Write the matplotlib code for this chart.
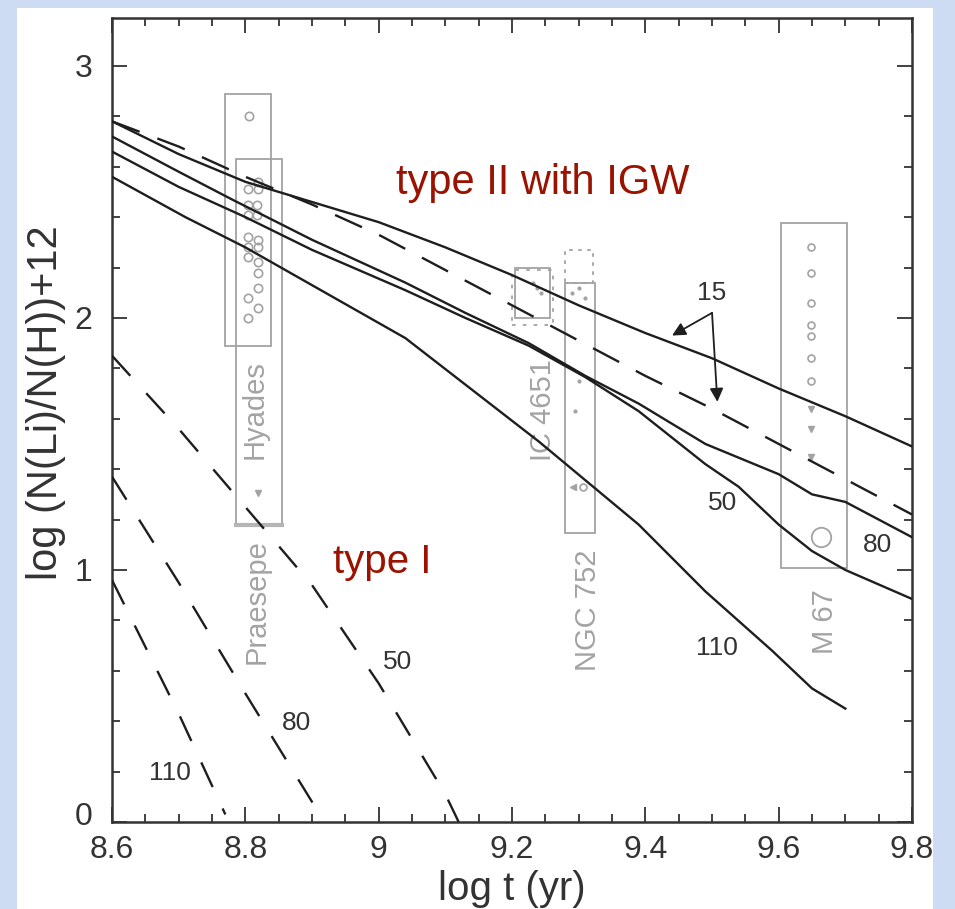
import matplotlib.pyplot as plt
from matplotlib.patches import Rectangle
from matplotlib.ticker import MultipleLocator
from matplotlib.transforms import ScaledTranslation

plt.rcParams['font.family'] = ['Liberation Sans', 'DejaVu Sans']

# type II with IGW, solid curves
igw15_x = [8.6, 8.7, 8.8, 8.9, 9.0, 9.1, 9.2, 9.3, 9.4, 9.5, 9.6, 9.7, 9.8]
igw15_y = [2.78, 2.65, 2.54, 2.46, 2.38, 2.28, 2.17, 2.05, 1.94, 1.84, 1.72, 1.61, 1.49]
igw80_x = [8.6, 8.7, 8.78, 8.9, 9.04, 9.13, 9.225, 9.31, 9.39, 9.49, 9.6, 9.65, 9.7, 9.75, 9.8]
igw80_y = [2.72, 2.58, 2.47, 2.31, 2.14, 2.02, 1.90, 1.77, 1.66, 1.50, 1.38, 1.30, 1.27, 1.20, 1.13]
igw50_x = [8.6, 8.7, 8.8, 8.9, 9.04, 9.13, 9.225, 9.31, 9.39, 9.49, 9.54, 9.6, 9.65, 9.7, 9.8]
igw50_y = [2.66, 2.52, 2.40, 2.27, 2.11, 2.00, 1.89, 1.765, 1.63, 1.42, 1.33, 1.18, 1.075, 1.00, 0.885]
igw110_x = [8.6, 8.71, 8.8, 8.9, 9.04, 9.24, 9.39, 9.49, 9.59, 9.65, 9.7]
igw110_y = [2.56, 2.40, 2.28, 2.13, 1.92, 1.51, 1.18, 0.915, 0.68, 0.53, 0.45]

# type II with IGW, dashed curve (15)
igw15d_x = [8.6, 8.7, 8.8, 8.9, 9.0, 9.1, 9.2, 9.3, 9.4, 9.5, 9.6, 9.7, 9.8]
igw15d_y = [2.78, 2.68, 2.56, 2.45, 2.33, 2.19, 2.05, 1.91, 1.77, 1.64, 1.50, 1.36, 1.22]

# type I, dashed curves
t50_x = [8.6, 8.7, 8.8, 8.9, 9.0, 9.1, 9.12]
t50_y = [1.85, 1.56, 1.25, 0.94, 0.55, 0.11, 0.0]
t80_x = [8.6, 8.7, 8.8, 8.9, 8.92]
t80_y = [1.37, 0.95, 0.51, 0.08, 0.0]
t110_x = [8.6, 8.7, 8.77]
t110_y = [0.96, 0.43, 0.03]

# cluster observations
hyades_x = [8.805, 8.819, 8.804, 8.819, 8.804, 8.817, 8.804, 8.817, 8.804, 8.819,
            8.804, 8.819, 8.804, 8.819, 8.819, 8.819, 8.804, 8.819, 8.804]
hyades_y = [2.80, 2.54, 2.51, 2.51, 2.45, 2.45, 2.41, 2.41, 2.32, 2.31,
            2.28, 2.28, 2.24, 2.22, 2.18, 2.12, 2.08, 2.04, 2.00]
m67_x = [9.649, 9.649, 9.649, 9.649, 9.649, 9.649, 9.649]
m67_y = [2.28, 2.18, 2.06, 1.97, 1.93, 1.84, 1.75]
m67_tri_x = [9.649, 9.649, 9.649]
m67_tri_y = [1.64, 1.56, 1.45]
ngc752_x = [9.29, 9.30, 9.31, 9.30, 9.295]
ngc752_y = [2.10, 2.12, 2.08, 1.75, 1.63]
ic4651_x = [9.232, 9.238, 9.244]
ic4651_y = [2.14, 2.12, 2.10]

xtick_vals = [8.6, 8.8, 9.0, 9.2, 9.4, 9.6, 9.8]
xtick_labels = ['8.6', '8.8', '9', '9.2', '9.4', '9.6', '9.8']
ytick_vals = [0, 1, 2, 3]

fig = plt.figure(figsize=(9.55, 9.09), dpi=100, facecolor='#cddcf2')
fig.patches.append(Rectangle((17 / 955, 0), 916 / 955, 1 - 8 / 909, transform=fig.transFigure,
                             facecolor='white', edgecolor='none', zorder=-5))
ax = fig.add_axes([0.1173, 0.0957, 0.8377, 0.8845])

line_c = '#1e1e1e'
grey = '#a3a3a3'

# boxes around the clusters
boxes = [(8.769, 1.89, 0.070, 1.00), (8.786, 1.18, 0.069, 1.45),
         (9.204, 2.00, 0.053, 0.20), (9.279, 1.147, 0.045, 0.993),
         (9.603, 1.008, 0.100, 1.369)]
for (x0, y0, w, h) in boxes:
    ax.add_patch(Rectangle((x0, y0), w, h, fill=False, edgecolor=grey, lw=1.3, zorder=1))
ax.plot([8.786, 8.855], [1.18, 1.18], color='#b5b5b5', lw=3, zorder=1)
ax.add_patch(Rectangle((9.279, 2.14), 0.042, 0.13, fill=False, edgecolor=grey, lw=1.3,
                       ls=(0, (2, 3)), zorder=1))
ax.add_patch(Rectangle((9.200, 1.97), 0.062, 0.22, fill=False, edgecolor=grey, lw=1.3,
                       ls=(0, (2, 4)), zorder=1))

ax.plot(hyades_x, hyades_y, 'o', ms=6, mfc='none', mec=grey, mew=1.2, zorder=2)
ax.plot([8.819], [1.305], 'v', ms=5, color=grey, zorder=2)
ax.plot(m67_x, m67_y, 'o', ms=5, mfc='none', mec=grey, mew=1.2, zorder=2)
ax.plot(m67_tri_x, m67_tri_y, 'v', ms=5, color=grey, zorder=2)
ax.plot([9.664], [1.13], 'o', ms=14, mfc='none', mec=grey, mew=1.3, zorder=2)
ax.plot(ngc752_x, ngc752_y, '.', ms=4, color=grey, zorder=2)
ax.plot([9.291], [1.33], '<', ms=5, color=grey, zorder=2)
ax.plot([9.306], [1.33], 'o', ms=5, mfc='none', mec=grey, mew=1.2, zorder=2)
ax.plot(ic4651_x, ic4651_y, '.', ms=4, color=grey, zorder=2)

# model curves
for xs, ys in [(igw15_x, igw15_y), (igw80_x, igw80_y), (igw50_x, igw50_y), (igw110_x, igw110_y)]:
    ax.plot(xs, ys, color=line_c, lw=1.7, zorder=3)
ax.plot(igw15d_x, igw15d_y, color=line_c, lw=1.7, dashes=(12.5, 8), zorder=3)
for xs, ys in [(t50_x, t50_y), (t80_x, t80_y), (t110_x, t110_y)]:
    ax.plot(xs, ys, color=line_c, lw=1.7, dashes=(11.5, 10), zorder=3)

# cluster names
name_kw = dict(rotation=90, color=grey, fontsize=21, ha='center', va='center', zorder=2)
ax.text(8.814, 1.635, 'Hyades', **name_kw)
ax.text(8.817, 0.873, 'Praesepe', **name_kw)
ax.text(9.246, 1.635, 'IC 4651', **name_kw)
ax.text(9.314, 0.84, 'NGC 752', **name_kw)
ax.text(9.669, 0.794, 'M 67', **name_kw)

# curve labels
lab_kw = dict(color='#333333', fontsize=19, ha='center', va='center', zorder=4)
ax.text(9.029, 0.635, '50', **lab_kw)
ax.text(8.877, 0.393, '80', **lab_kw)
ax.text(8.687, 0.194, '110', **lab_kw)
ax.text(9.50, 2.10, '15', **lab_kw)
ax.text(9.516, 1.266, '50', **lab_kw)
ax.text(9.748, 1.10, '80', **lab_kw)
ax.text(9.507, 0.69, '110', **lab_kw)
for tip in [(9.44, 1.93), (9.508, 1.667)]:
    ax.annotate('', xy=tip, xytext=(9.50, 2.02),
                arrowprops=dict(arrowstyle='-|>', color=line_c, lw=1.3, mutation_scale=20,
                                shrinkA=0, shrinkB=0), zorder=4)

ax.text(9.246, 2.536, 'type II with IGW', color='#9a1200', fontsize=30, ha='center', va='center')
ax.text(9.005, 1.03, 'type I', color='#9a1200', fontsize=29, ha='center', va='center')

ax.set_xlim(8.6, 9.8)
ax.set_ylim(0, 3.19)
ax.set_xticks(xtick_vals)
ax.set_xticklabels(xtick_labels)
ax.set_yticks(ytick_vals)
ax.xaxis.set_minor_locator(MultipleLocator(0.05))
ax.yaxis.set_minor_locator(MultipleLocator(0.2))
ax.tick_params(which='both', direction='in', top=True, right=True, width=1.3, colors='#333333',
               labelsize=23)
ax.tick_params(which='major', length=11)
ax.tick_params(axis='x', which='major', pad=9)
ax.tick_params(axis='y', which='major', pad=14)
ax.tick_params(which='minor', length=6)
for sp in ax.spines.values():
    sp.set_linewidth(1.8)
    sp.set_color('#333333')

# the "0" sits a little above its tick, clear of "8.6"
zero_lbl = ax.get_yticklabels()[0]
zero_lbl.set_transform(zero_lbl.get_transform() + ScaledTranslation(0, 6 / 72, fig.dpi_scale_trans))

ax.set_xlabel('log t (yr)', fontsize=29, color='#333333', labelpad=4)
ax.set_ylabel('log (N(Li)/N(H))+12', fontsize=30, color='#333333')
ax.yaxis.set_label_coords(-0.057, 0.521)

fig.savefig('out.png', dpi=100, facecolor=fig.get_facecolor())
